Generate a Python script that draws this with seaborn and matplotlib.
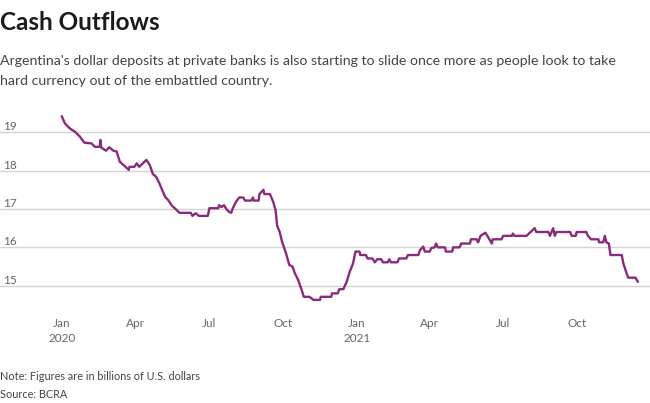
import matplotlib
matplotlib.use('Agg')
import matplotlib.pyplot as plt
import pandas as pd
import seaborn as sns

# dollar deposits at private banks, billions of USD
dates = [
    '2020-01-01', '2020-01-05', '2020-01-11', '2020-01-17', '2020-01-23', '2020-01-29',
    '2020-02-07', '2020-02-11', '2020-02-17', '2020-02-18', '2020-02-19', '2020-02-25',
    '2020-02-29', '2020-03-05', '2020-03-09', '2020-03-13', '2020-03-19', '2020-03-24',
    '2020-03-25', '2020-03-31', '2020-04-03', '2020-04-06', '2020-04-15', '2020-04-19',
    '2020-04-23', '2020-04-27', '2020-05-01', '2020-05-08', '2020-05-12', '2020-05-16',
    '2020-05-20', '2020-05-26', '2020-06-09', '2020-06-11', '2020-06-15', '2020-06-19',
    '2020-06-30', '2020-07-02', '2020-07-13', '2020-07-14', '2020-07-17', '2020-07-20',
    '2020-07-23', '2020-07-26', '2020-07-29', '2020-07-31', '2020-08-04', '2020-08-08',
    '2020-08-13', '2020-08-15', '2020-08-23', '2020-08-25', '2020-08-26', '2020-09-01',
    '2020-09-02', '2020-09-07', '2020-09-08', '2020-09-15', '2020-09-19', '2020-09-22',
    '2020-09-24', '2020-09-27', '2020-09-30', '2020-10-05', '2020-10-09', '2020-10-13',
    '2020-10-16', '2020-10-20', '2020-10-24', '2020-10-27', '2020-11-03', '2020-11-08',
    '2020-11-16', '2020-11-17', '2020-11-30', '2020-12-01', '2020-12-08', '2020-12-10',
    '2020-12-15', '2020-12-19', '2020-12-23', '2020-12-27', '2020-12-30',
    '2021-01-04', '2021-01-05', '2021-01-12', '2021-01-14', '2021-01-20', '2021-01-23',
    '2021-01-26', '2021-01-31', '2021-02-02', '2021-02-08', '2021-02-10', '2021-02-12',
    '2021-02-20', '2021-02-22', '2021-03-03', '2021-03-05', '2021-03-18', '2021-03-20',
    '2021-03-24', '2021-03-26', '2021-04-01', '2021-04-03', '2021-04-07', '2021-04-09',
    '2021-04-11', '2021-04-20', '2021-04-21', '2021-04-29', '2021-04-30', '2021-05-08',
    '2021-05-10', '2021-05-21', '2021-05-22', '2021-05-29', '2021-05-31', '2021-06-03',
    '2021-06-09', '2021-06-12', '2021-06-17', '2021-06-18', '2021-06-29', '2021-07-01',
    '2021-07-12', '2021-07-13', '2021-07-15', '2021-07-30', '2021-08-03', '2021-08-09',
    '2021-08-11', '2021-08-26', '2021-08-28', '2021-09-01', '2021-09-03', '2021-09-05',
    '2021-09-22', '2021-09-24', '2021-09-29', '2021-09-30', '2021-10-12', '2021-10-14',
    '2021-10-18', '2021-10-27', '2021-10-28', '2021-11-02', '2021-11-04', '2021-11-06',
    '2021-11-09', '2021-11-11', '2021-11-25', '2021-11-27', '2021-12-01', '2021-12-03',
    '2021-12-12', '2021-12-15',
]
deposits = [
    19.42, 19.23, 19.10, 19.02, 18.90, 18.73,
    18.71, 18.62, 18.62, 18.80, 18.60, 18.52,
    18.61, 18.52, 18.50, 18.23, 18.12, 18.02,
    18.10, 18.10, 18.19, 18.10, 18.28, 18.15,
    17.91, 17.84, 17.67, 17.32, 17.23, 17.10,
    17.02, 16.90, 16.90, 16.82, 16.89, 16.82,
    16.82, 17.02, 17.02, 17.10, 17.05, 17.10,
    17.00, 16.93, 16.90, 17.02, 17.19, 17.30,
    17.30, 17.22, 17.22, 17.30, 17.22, 17.22,
    17.39, 17.50, 17.39, 17.39, 17.19, 16.97,
    16.56, 16.41, 16.15, 15.84, 15.54, 15.50,
    15.32, 15.15, 14.91, 14.71, 14.71, 14.63,
    14.63, 14.71, 14.71, 14.80, 14.80, 14.91,
    14.91, 15.10, 15.37, 15.58, 15.89,
    15.89, 15.80, 15.80, 15.71, 15.71, 15.61,
    15.69, 15.69, 15.61, 15.61, 15.69, 15.61,
    15.61, 15.71, 15.71, 15.80, 15.80, 15.93,
    16.02, 15.89, 15.89, 15.98, 16.00, 16.10,
    16.00, 16.00, 15.89, 15.89, 16.00, 16.00,
    16.10, 16.10, 16.21, 16.21, 16.13, 16.30,
    16.38, 16.28, 16.10, 16.21, 16.21, 16.30,
    16.30, 16.36, 16.30, 16.30, 16.38, 16.50,
    16.40, 16.40, 16.30, 16.50, 16.30, 16.40,
    16.40, 16.30, 16.30, 16.40, 16.40, 16.30,
    16.21, 16.21, 16.13, 16.13, 16.30, 16.13,
    16.10, 15.80, 15.80, 15.58, 15.32, 15.21,
    15.21, 15.10,
]

y_ticks = [15, 16, 17, 18, 19]
x_tick_dates = ['2020-01-01', '2020-04-01', '2020-07-01', '2020-10-01',
                '2021-01-01', '2021-04-01', '2021-07-01', '2021-10-01']
x_tick_labels = ['Jan\n2020', 'Apr', 'Jul', 'Oct', 'Jan\n2021', 'Apr', 'Jul', 'Oct']

sns.set_style('white')
plt.rcParams['font.family'] = ['Lato', 'DejaVu Sans']

df = pd.DataFrame({'date': pd.to_datetime(dates), 'deposits': deposits})

fig = plt.figure(figsize=(6.5, 4.03), dpi=100)
ax = fig.add_axes([0, 100 / 403, 1, 191 / 403])

# horizontal grid lines first so the line sits on top
for v in y_ticks:
    ax.axhline(v, color='#d4d4d4', linewidth=1, zorder=1)

sns.lineplot(data=df, x='date', y='deposits', ax=ax, color='#8a2a7b',
             linewidth=1.7, zorder=3)

start = pd.Timestamp('2020-01-01')
ax.set_xlim(start - pd.Timedelta(days=76.5), start + pd.Timedelta(days=729))
ax.set_ylim(14.549, 19.529)

ax.set_yticks(y_ticks)
ax.set_yticklabels([str(v) for v in y_ticks])
for lab in ax.get_yticklabels():
    lab.set_horizontalalignment('left')
    lab.set_verticalalignment('bottom')
ax.tick_params(axis='y', length=0, pad=-2, labelsize=8.5, labelcolor='#666666')

ax.set_xticks(pd.to_datetime(x_tick_dates))
ax.set_xticklabels(x_tick_labels, linespacing=1.45)
ax.tick_params(axis='x', direction='out', length=3.5, width=1, color='#555555',
               pad=7, labelsize=8.5, labelcolor='#666666')

ax.set_xlabel('')
ax.set_ylabel('')
for s in ax.spines.values():
    s.set_visible(False)
ax.grid(False)

# titles and notes
fig.text(0, 1 - 22 / 403, 'Cash Outflows', fontsize=17.5, fontweight='bold',
         color='#1a1a1a', va='center', ha='left')
fig.text(0, 1 - 61 / 403,
         "Argentina's dollar deposits at private banks is also starting to slide once more as people look to take",
         fontsize=10.2, color='#444444', va='center', ha='left')
fig.text(0, 1 - 81 / 403, 'hard currency out of the embattled country.',
         fontsize=10.2, color='#444444', va='center', ha='left')
fig.text(0, 1 - 377 / 403, 'Note: Figures are in billions of U.S. dollars',
         fontsize=7.8, color='#444444', va='center', ha='left')
fig.text(0, 1 - 394 / 403, 'Source: BCRA',
         fontsize=7.8, color='#444444', va='center', ha='left')

fig.savefig('out.png', dpi=100)
